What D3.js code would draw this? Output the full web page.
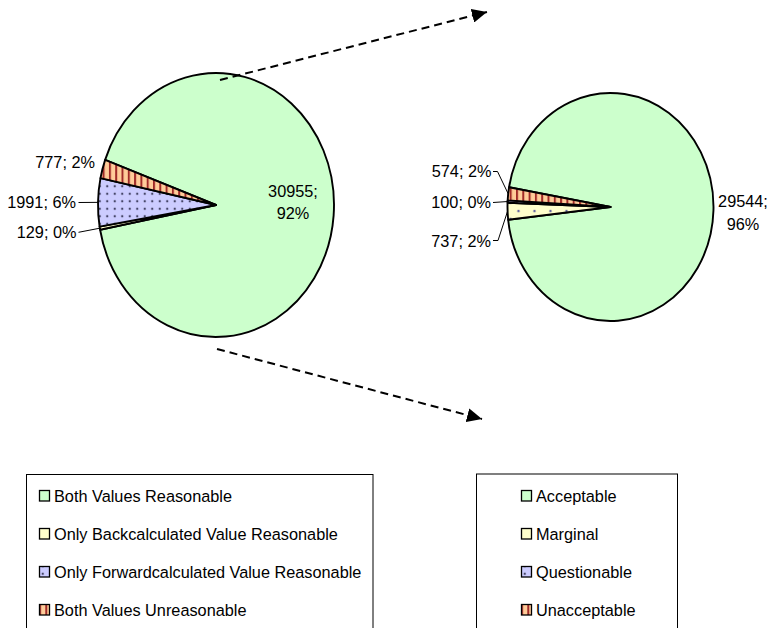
<!DOCTYPE html>
<html>
<head>
<meta charset="utf-8">
<script src="https://cdn.jsdelivr.net/npm/d3@7"></script>
<style>
  body { margin: 0; background: #fff; }
  text { font-family: "Liberation Sans", Arial, sans-serif; font-size: 16.3px; fill: #000; }
</style>
</head>
<body>
<svg id="chart" width="770" height="628"></svg>
<script>
// Plausibility check of all records (left pie)
const checkCategories = ["Both Values Reasonable", "Only Backcalculated Value Reasonable",
                         "Only Forwardcalculated Value Reasonable", "Both Values Unreasonable"];
const checkCounts = [30955, 129, 1991, 777];
const checkPercentLabels = ["92%", "0%", "6%", "2%"];

// Rating of the records where both values are reasonable (right pie)
const ratingCategories = ["Acceptable", "Marginal", "Questionable", "Unacceptable"];
const ratingCounts = [29544, 737, 100, 574];
const ratingPercentLabels = ["96%", "2%", "0%", "2%"];

// Fill style per slice position (same for both pies)
const fillKeys = ["green", "yellow", "blue", "red"];

const svg = d3.select("#chart");
const defs = svg.append("defs");

// Hatched / dotted fills; k undoes the vertical stretch of the pie group
function makePatterns(suffix, k) {
  const tf = `scale(1,${1 / k})`;
  const g = defs.append("pattern").attr("id", "green" + suffix)
    .attr("patternUnits", "userSpaceOnUse").attr("width", 10).attr("height", 10);
  g.append("rect").attr("width", 10).attr("height", 10).attr("fill", "#CCFFCC");

  const y = defs.append("pattern").attr("id", "yellow" + suffix)
    .attr("patternUnits", "userSpaceOnUse").attr("width", 16).attr("height", 16)
    .attr("patternTransform", tf);
  y.append("rect").attr("width", 16).attr("height", 16).attr("fill", "#FFFFCC");
  y.append("circle").attr("cx", 4).attr("cy", 4).attr("r", 1.1).attr("fill", "#4a4a99");
  y.append("circle").attr("cx", 12).attr("cy", 12).attr("r", 1.1).attr("fill", "#4a4a99");

  const b = defs.append("pattern").attr("id", "blue" + suffix)
    .attr("patternUnits", "userSpaceOnUse").attr("width", 7.5).attr("height", 7.5)
    .attr("patternTransform", tf);
  b.append("rect").attr("width", 7.5).attr("height", 7.5).attr("fill", "#CCCCFF");
  b.append("circle").attr("cx", 3.75).attr("cy", 3.75).attr("r", 1.15).attr("fill", "#444466");

  const r = defs.append("pattern").attr("id", "red" + suffix)
    .attr("patternUnits", "userSpaceOnUse").attr("width", 6.3).attr("height", 6)
    .attr("patternTransform", tf);
  r.append("rect").attr("width", 6.3).attr("height", 6).attr("fill", "#FFCC99");
  r.append("rect").attr("x", 0).attr("width", 2).attr("height", 6).attr("fill", "#A02A28");
}

// Arrowhead for the dashed connector arrows
defs.append("marker").attr("id", "arrowhead")
  .attr("markerUnits", "userSpaceOnUse")
  .attr("viewBox", "0 0 15 14").attr("refX", 15).attr("refY", 7)
  .attr("markerWidth", 15).attr("markerHeight", 14).attr("orient", "auto")
  .append("path").attr("d", "M0,0 L15,7 L0,14 Z").attr("fill", "#000");

function drawPie(cfg) {
  const k = cfg.ry / cfg.rx;
  makePatterns(cfg.id, k);
  const pie = d3.pie().sort(null)
    .startAngle(cfg.start * Math.PI / 180)
    .endAngle(cfg.start * Math.PI / 180 + 2 * Math.PI);
  const arcs = pie(cfg.values);
  const arc = d3.arc().innerRadius(0).outerRadius(cfg.rx);

  const g = svg.append("g")
    .attr("transform", `translate(${cfg.cx},${cfg.cy}) scale(1,${k})`);
  g.selectAll("path.slice").data(arcs).join("path")
    .attr("class", "slice")
    .attr("d", arc)
    .attr("fill", (d, i) => `url(#${fillKeys[i]}${cfg.id})`)
    .attr("stroke", "#000")
    .attr("stroke-width", 1.9)
    .attr("stroke-linejoin", "round")
    .attr("vector-effect", "non-scaling-stroke");

  // point on the rim at the middle of a slice
  const rim = d => {
    const m = (d.startAngle + d.endAngle) / 2;
    return [cfg.cx + cfg.rx * Math.sin(m), cfg.cy - cfg.ry * Math.cos(m)];
  };

  arcs.forEach((d, i) => {
    const lay = cfg.labels[i];
    const txt = `${cfg.values[i]}; ${cfg.percents[i]}`;
    if (lay.split) {
      const t = svg.append("text").attr("text-anchor", "middle");
      t.append("tspan").attr("x", lay.x).attr("y", lay.y).text(`${cfg.values[i]};`);
      t.append("tspan").attr("x", lay.x).attr("y", lay.y + lay.dy).text(cfg.percents[i]);
    } else {
      svg.append("text").attr("text-anchor", "end")
        .attr("x", lay.x).attr("y", lay.y).text(txt);
      if (lay.leader) {
        const pts = lay.leader.concat([rim(d)]);
        svg.append("path")
          .attr("d", d3.line()(pts))
          .attr("fill", "none").attr("stroke", "#000").attr("stroke-width", 1);
      }
    }
  });
}

drawPie({
  id: "L", cx: 216, cy: 205, rx: 118, ry: 132, start: -70,
  values: checkCounts, percents: checkPercentLabels,
  labels: [
    { split: true, x: 293, y: 197, dy: 22 },
    { x: 76.5, y: 237.5, leader: [[78.5, 232.3]] },
    { x: 76, y: 208, leader: [[78.5, 202.5]] },
    { x: 95, y: 168 }
  ]
});

drawPie({
  id: "R", cx: 610.5, cy: 207, rx: 103, ry: 114, start: -80,
  values: ratingCounts, percents: ratingPercentLabels,
  labels: [
    { split: true, x: 743, y: 207, dy: 23 },
    { x: 491, y: 247, leader: [[493, 240.5], [498, 240.5]] },
    { x: 491, y: 208, leader: [[493, 202.5]] },
    { x: 491.5, y: 176.5, leader: [[493, 171.5], [497.5, 171.5]] }
  ]
});

// Dashed connector arrows from the green slice to the detail pie
const arrows = [
  [[220, 80], [487, 12]],
  [[217, 349], [482, 419]]
];
svg.selectAll("path.arrow").data(arrows).join("path")
  .attr("class", "arrow")
  .attr("d", d => d3.line()(d))
  .attr("fill", "none").attr("stroke", "#000").attr("stroke-width", 2)
  .attr("stroke-dasharray", "8,5")
  .attr("marker-end", "url(#arrowhead)");

// Legends
makePatterns("S", 1);
function drawLegend(x0, y0, w, swatchX, names) {
  svg.append("rect").attr("x", x0 + 0.5).attr("y", y0 + 0.5)
    .attr("width", w).attr("height", 200)
    .attr("fill", "none").attr("stroke", "#000").attr("stroke-width", 1);
  const row = svg.selectAll(null).data(names).join("g")
    .attr("transform", (d, i) => `translate(${swatchX},${501.5 + i * 38})`);
  row.append("rect").attr("x", 0.5).attr("y", -11).attr("width", 10).attr("height", 10.5)
    .attr("fill", (d, i) => `url(#${fillKeys[i]}S)`)
    .attr("stroke", "#000").attr("stroke-width", 1.3);
  row.append("text").attr("x", 15).attr("y", 0).text(d => d);
}
drawLegend(26, 474, 346.5, 39, checkCategories);
drawLegend(476, 473.5, 201, 521, ratingCategories);
</script>
</body>
</html>
